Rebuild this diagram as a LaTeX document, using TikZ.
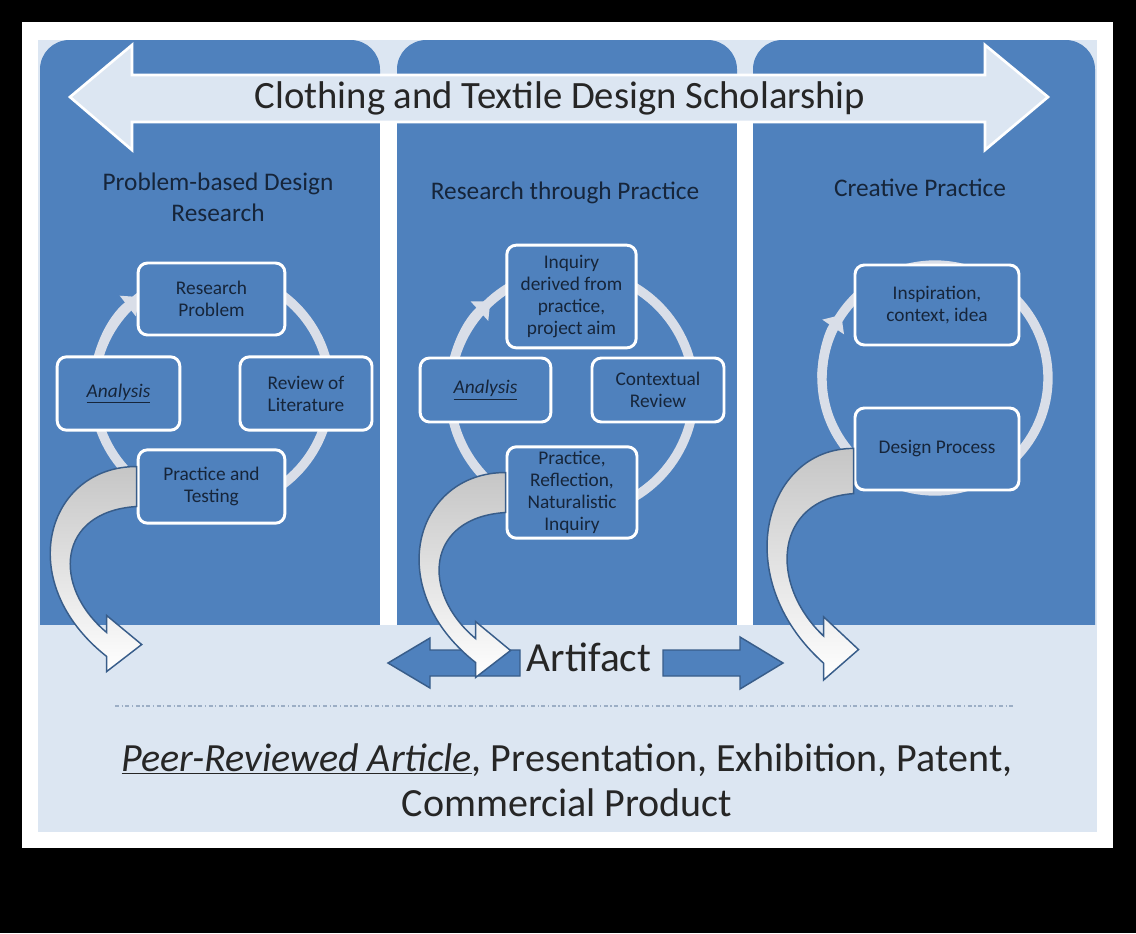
\documentclass[tikz,border=0pt]{standalone}
\usepackage{fontspec}
\setmainfont{Carlito}
\usetikzlibrary{arrows.meta,calc}
\definecolor{colblue}{HTML}{4F81BD}
\definecolor{edgeblue}{HTML}{385D8A}
\definecolor{paleblue}{HTML}{DCE6F2}
\definecolor{ringgray}{HTML}{D9DEE8}
\definecolor{boxtext}{HTML}{16253A}
\tikzset{
  box/.style={rectangle, rounded corners=7pt, draw=white, line width=2.2pt, fill=colblue,
    text=boxtext, align=center, font=\fontsize{14.5}{16.5}\selectfont},
  heading/.style={align=center, text=boxtext, font=\fontsize{19}{23}\selectfont},
  ring/.style={draw=ringgray, line width=7pt},
  ringtip/.style={ring, -{Triangle[length=11pt, width=19pt]}},
  curvedarrow/.style={draw=edgeblue, line width=1.1pt, top color=gray!45, bottom color=white},
  flat/.style={draw=edgeblue, line width=1.1pt, fill=colblue}
}
\newcommand{\bendarrow}[2]{%
  \path[curvedarrow, shift={#1}, yscale=#2] (0,-20) .. controls (-90,-20) and (-125,95) .. (-30,170) -- (-30,185) -- (5,158)
    -- (-30,129) -- (-30,146) .. controls (-85,100) and (-80,25) .. (0,20) -- cycle;}
\begin{document}
\begin{tikzpicture}[x=0.75pt, y=-0.75pt]
\useasboundingbox (0,0) rectangle (1136,933);
\fill[black] (0,0) rectangle (1136,933);
\fill[white] (22,22) rectangle (1113,848);
\fill[paleblue] (38,40) rectangle (1097,832);
\fill[colblue, rounded corners=22pt] (40,40) rectangle (380,680);
\fill[colblue, rounded corners=22pt] (397,40) rectangle (737,680);
\fill[colblue, rounded corners=22pt] (753,40) rectangle (1095,680);
\fill[white] (380,110) rectangle (397,625);
\fill[white] (737,110) rectangle (753,625);
\fill[paleblue] (38,625) rectangle (1097,832);
\draw[draw=white, line width=2pt, fill=paleblue] (70,97) -- (132,45) -- (132,75) -- (985,75) -- (985,45)
  -- (1048,97) -- (985,150) -- (985,122) -- (132,122) -- (132,150) -- cycle;
\node (title) at (560,98) [font=\fontsize{29}{33}\selectfont, text=black!85] {Clothing and Textile Design Scholarship};
\node (h1) at (218,197) [heading] {Problem-based Design\\Research};
\node (h2) at (565,193) [heading] {Research through Practice};
\node (h3) at (920,188) [heading] {Creative Practice};
\draw[ring] (212,390) circle (118);
\draw[ringtip] (94,390) arc[start angle=180, end angle=232, radius=118];
\draw[ring] (572,392) circle (122);
\draw[ringtip] (450,392) arc[start angle=180, end angle=228, radius=122];
\draw[ring] (935,378) circle (113);
\draw[ringtip] (822,378) arc[start angle=180, end angle=214, radius=113];
\node (rp1) at (211.5,299) [box, minimum width=110pt, minimum height=54pt] {Research\\Problem};
\node (an1) at (118.5,393.5) [box, minimum width=92pt, minimum height=55pt] {\underline{\textit{Analysis}}};
\node (rv1) at (306,393.5) [box, minimum width=99pt, minimum height=55pt] {Review of\\Literature};
\node (pt1) at (211.5,486.5) [box, minimum width=110pt, minimum height=55pt] {Practice and\\Testing};
\node (iq2) at (571.5,296.5) [box, minimum width=97pt, minimum height=77pt] {Inquiry\\derived from\\practice,\\project aim};
\node (an2) at (485.5,390) [box, minimum width=98pt, minimum height=48pt] {\underline{\textit{Analysis}}};
\node (cr2) at (658,390) [box, minimum width=99pt, minimum height=48pt] {Contextual\\Review};
\node (pr2) at (572,492.5) [box, minimum width=97.5pt, minimum height=68pt] {Practice,\\Reflection,\\Naturalistic\\Inquiry};
\node (in3) at (937,305) [box, minimum width=123pt, minimum height=60pt] {Inspiration,\\context, idea};
\node (dp3) at (937,449) [box, minimum width=123pt, minimum height=61.5pt] {Design Process};
\path[flat] (388,663) -- (430,638) -- (430,650) -- (520,650) -- (520,676) -- (430,676) -- (430,688) -- cycle;
\path[flat] (783,663) -- (740,637) -- (740,650) -- (663,650) -- (663,676) -- (740,676) -- (740,689) -- cycle;
\bendarrow{(pt1.west)}{1}
\bendarrow{(pr2.west)}{1}
\bendarrow{($(dp3.west)+(0,22)$)}{1.13}
\node (art) at (589,657) [font=\fontsize{31}{34}\selectfont, text=black!85] {Artifact};
\draw[edgeblue!50, line width=0.8pt, dash dot] (115,706) -- (1015,706);
\node (out) at (567,780) [align=center, text=black!85, font=\fontsize{30}{34}\selectfont]
  {\underline{\textit{Peer-Reviewed Article}}, Presentation, Exhibition, Patent,\\Commercial Product};
\end{tikzpicture}
\end{document}
